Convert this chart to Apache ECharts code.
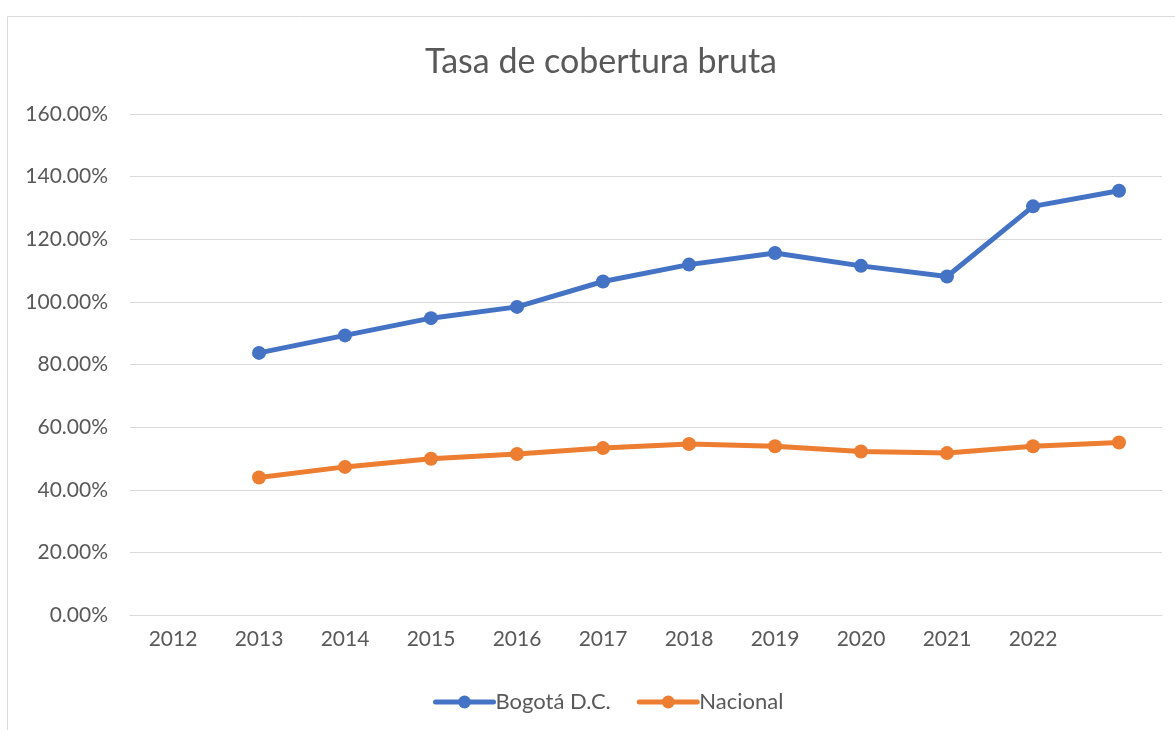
<!DOCTYPE html>
<html>
<head>
<meta charset="utf-8">
<script src="https://cdn.jsdelivr.net/npm/echarts@6/dist/echarts.min.js"></script>
<style>
  html, body { margin: 0; padding: 0; background: #fff; }
  #chart { width: 1175px; height: 730px; }
</style>
</head>
<body>
<div id="chart"></div>
<script>
// categorias (la ultima sin etiqueta)
var years = ['2012', '2013', '2014', '2015', '2016', '2017', '2018', '2019', '2020', '2021', '2022', ''];
var bogota = [null, 83.7, 89.3, 94.8, 98.4, 106.5, 111.9, 115.6, 111.5, 108.1, 130.5, 135.5];
var nacional = [null, 43.9, 47.3, 49.9, 51.4, 53.3, 54.6, 53.9, 52.2, 51.7, 53.9, 55.1];
var yTicks = { min: 0, max: 160, step: 20 };

var chart = echarts.init(document.getElementById('chart'));
var txt = '#595959';
var font = 'Lato, "Open Sans", sans-serif';

chart.setOption({
  animation: false,
  title: {
    text: 'Tasa de cobertura bruta',
    left: 420,
    top: 40,
    textStyle: { color: txt, fontSize: 34, fontWeight: 'normal', fontFamily: font }
  },
  graphic: [{
    type: 'rect',
    shape: { x: 7.5, y: 16.5, width: 1300, height: 900 },
    style: { fill: 'none', stroke: '#d9d9d9', lineWidth: 1 },
    silent: true
  }],
  grid: { left: 130, right: 13, top: 114, bottom: 115 },
  legend: {
    left: 428,
    top: 686,
    itemWidth: 58,
    itemHeight: 16,
    itemGap: 26,
    lineStyle: { width: 5, cap: 'round' },
    textStyle: { color: txt, fontSize: 22, fontFamily: font, padding: [0, 0, 0, -3] },
    data: ['Bogotá D.C.', 'Nacional']
  },
  xAxis: {
    type: 'category',
    data: years,
    boundaryGap: true,
    axisLine: { lineStyle: { color: '#d9d9d9', width: 1 } },
    axisTick: { show: false },
    axisLabel: { color: txt, fontSize: 21, fontFamily: font, margin: 14, interval: 0 }
  },
  yAxis: {
    type: 'value',
    min: yTicks.min,
    max: yTicks.max,
    interval: yTicks.step,
    axisLine: { show: false },
    axisTick: { show: false },
    splitLine: { lineStyle: { color: '#d9d9d9', width: 1 } },
    axisLabel: {
      color: txt, fontSize: 21, fontFamily: font, margin: 22,
      formatter: function (v) { return v.toFixed(2) + '%'; }
    }
  },
  series: [
    {
      name: 'Bogotá D.C.',
      type: 'line',
      data: bogota,
      color: '#4472C4',
      lineStyle: { width: 5 },
      symbol: 'circle',
      symbolSize: 14
    },
    {
      name: 'Nacional',
      type: 'line',
      data: nacional,
      color: '#ED7D31',
      lineStyle: { width: 5 },
      symbol: 'circle',
      symbolSize: 14
    }
  ]
});
</script>
</body>
</html>
